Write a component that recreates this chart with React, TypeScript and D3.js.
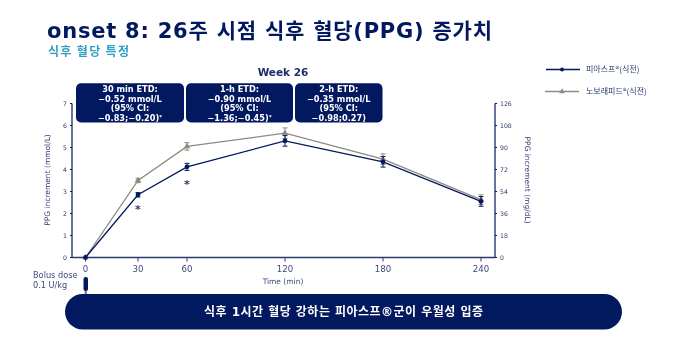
import React from "react";
import * as d3 from "d3";

const times = [0, 30, 60, 120, 180, 240];
const fiasp = [0, 2.85, 4.12, 5.3, 4.35, 2.55];
const fiaspErr = [0, 0.1, 0.16, 0.24, 0.24, 0.22];
const novo = [0, 3.5, 5.05, 5.65, 4.47, 2.63];
const novoErr = [0, 0.1, 0.17, 0.24, 0.24, 0.22];
const mmolTicks = [0, 1, 2, 3, 4, 5, 6, 7];
const mgTicks = [0, 18, 36, 54, 72, 90, 108, 126];
const stars = [{ t: 30, v: 2.35 }, { t: 60, v: 3.5 }];
const etdBoxes = [
  { x0: 76, x1: 184, lines: ["30 min ETD:", "−0.52 mmol/L", "(95% CI:", "−0.83;−0.20)"], star: true },
  { x0: 186, x1: 293, lines: ["1-h ETD:", "−0.90 mmol/L", "(95% CI:", "−1.36;−0.45)"], star: true },
  { x0: 295, x1: 382.5, lines: ["2-h ETD:", "−0.35 mmol/L", "(95% CI:", "−0.98;0.27)"], star: false },
];

const NAVY = "#03195f";
const GRAY = "#8f8a7e";
const FONT = "'DejaVu Sans', 'Noto Sans CJK KR', sans-serif";
const KR = "'Noto Sans CJK KR', 'DejaVu Sans', sans-serif";

const x = d3.scaleLinear().domain([0, 30, 240]).range([85.5, 138, 481]);
const y = d3.scaleLinear().domain([0, 7]).range([257.5, 103.5]);
const y2 = d3.scaleLinear().domain([0, 126]).range([257.5, 103.5]);
const line = d3.line<number>().x((_, i) => x(times[i])).y((d) => y(d));

function Series({ values, errs, color, kind }: { values: number[]; errs: number[]; color: string; kind: string }) {
  const sym = d3.symbol().type(kind === "tri" ? d3.symbolTriangle : d3.symbolCircle).size(kind === "tri" ? 18 : 18)();
  return (
    <g>
      <path d={line(values) || ""} fill="none" stroke={color} strokeWidth={1.3} />
      {values.map((v, i) => (
        <g key={i}>
          {errs[i] > 0 && (
            <g stroke={color} strokeWidth={1}>
              <line x1={x(times[i])} x2={x(times[i])} y1={y(v - errs[i])} y2={y(v + errs[i])} />
              <line x1={x(times[i]) - 2.5} x2={x(times[i]) + 2.5} y1={y(v - errs[i])} y2={y(v - errs[i])} />
              <line x1={x(times[i]) - 2.5} x2={x(times[i]) + 2.5} y1={y(v + errs[i])} y2={y(v + errs[i])} />
            </g>
          )}
          <path d={sym || ""} transform={`translate(${x(times[i])},${y(v)})`} fill={color} />
        </g>
      ))}
    </g>
  );
}

export default function App() {
  const legendSymC = d3.symbol().type(d3.symbolCircle).size(12)() || "";
  const legendSymT = d3.symbol().type(d3.symbolTriangle).size(14)() || "";
  return (
    <svg width={680} height={353} style={{ position: "absolute", left: 0, top: 0, background: "#fff", filter: "blur(0.4px)" }}>
      <text x={47} y={38} fontFamily={FONT} fontWeight={700} fontSize={21} fill={NAVY} textLength={445}>
        onset 8: 26주 시점 식후 혈당(PPG) 증가치
      </text>
      <text x={48} y={56} fontFamily={KR} fontWeight={700} fontSize={12} fill="#2e9fc4" textLength={81}>
        식후 혈당 특정
      </text>
      <text x={283} y={76} textAnchor="middle" fontFamily={FONT} fontWeight={700} fontSize={10.5} fill="#1d2d66">Week 26</text>

      {etdBoxes.map((b) => (
        <g key={b.x0}>
          <rect x={b.x0} y={83.2} width={b.x1 - b.x0} height={39.2} rx={5} fill={NAVY} />
          {b.lines.map((l, i) => (
            <text key={i} x={(b.x0 + b.x1) / 2} y={92 + i * 9.5} textAnchor="middle" fontFamily={FONT} fontWeight={700} fontSize={8.2} fill="#fff">
              {l}
              {i === 3 && b.star ? <tspan fontSize={5.5} dy={-2}>*</tspan> : null}
            </text>
          ))}
        </g>
      ))}

      <g stroke={NAVY} strokeWidth={1.2}>
        <line x1={72} x2={72} y1={y(7)} y2={y(0)} />
        <line x1={495} x2={495} y1={y(7)} y2={y(0)} />
        <line x1={72} x2={495} y1={y(0)} y2={y(0)} strokeWidth={1.4} stroke="#2b3a6c" />
      </g>
      {mmolTicks.map((t) => (
        <g key={t}>
          <line x1={70} x2={72} y1={y(t)} y2={y(t)} stroke={NAVY} />
          <text x={67} y={y(t) + 2} textAnchor="end" fontFamily={FONT} fontSize={6.2} fill="#2b3a6c">{t}</text>
        </g>
      ))}
      {mgTicks.map((t) => (
        <g key={t}>
          <line x1={495} x2={497} y1={y2(t)} y2={y2(t)} stroke={NAVY} />
          <text x={500} y={y2(t) + 2} fontFamily={FONT} fontSize={6.2} fill="#2b3a6c">{t}</text>
        </g>
      ))}
      {times.map((t) => (
        <g key={t}>
          <line x1={x(t)} x2={x(t)} y1={y(0)} y2={y(0) + 4} stroke="#2b3a6c" />
          <text x={x(t)} y={y(0) + 14} textAnchor="middle" fontFamily={FONT} fontSize={8.6} fill="#3c4a78">{t}</text>
        </g>
      ))}
      <text transform="translate(50,180) rotate(-90)" textAnchor="middle" fontFamily={FONT} fontSize={7.5} fill="#2b3a6c">PPG increment (mmol/L)</text>
      <text transform="translate(525,180) rotate(90)" textAnchor="middle" fontFamily={FONT} fontSize={7.5} fill="#2b3a6c">PPG increment (mg/dL)</text>
      <text x={283} y={284} textAnchor="middle" fontFamily={FONT} fontSize={7.5} fill="#3c4a78">Time (min)</text>

      <Series values={novo} errs={novoErr} color={GRAY} kind="tri" />
      <Series values={fiasp} errs={fiaspErr} color={NAVY} kind="dot" />
      {stars.map((s) => (
        <text key={s.t} x={x(s.t)} y={y(s.v) + 7} textAnchor="middle" fontFamily={FONT} fontSize={11} fontWeight={700} fill="#2b3a6c">*</text>
      ))}

      <text fontFamily={FONT} fontSize={8.2} fill="#3c4a78">
        <tspan x={33} y={278}>Bolus dose</tspan>
        <tspan x={33} y={288}>0.1 U/kg</tspan>
      </text>
      <rect x={83.5} y={277} width={4.5} height={14} rx={2} fill={NAVY} />
      <path d={`M85.7 291v3`} stroke="#6b7598" strokeWidth={2} />

      <line x1={546} x2={580} y1={69.5} y2={69.5} stroke={NAVY} strokeWidth={1.3} />
      <path d={legendSymC} transform="translate(562,69.5)" fill={NAVY} />
      <text x={586} y={72} fontFamily={KR} fontSize={8} fill="#2b3a6c">피아스프®(식전)</text>
      <line x1={545} x2={579} y1={91.5} y2={91.5} stroke={GRAY} strokeWidth={1.3} />
      <path d={legendSymT} transform="translate(562,91.5)" fill={GRAY} />
      <text x={586} y={94} fontFamily={KR} fontSize={8} fill="#2b3a6c">노보래피드®(식전)</text>

      <rect x={65} y={294} width={557} height={35.5} rx={17.7} fill={NAVY} />
      <text x={204} y={315.5} fontFamily={FONT} fontWeight={700} fontSize={12} fill="#fff" textLength={279}>식후 1시간 혈당 강하는 피아스프®군이 우월성 입증</text>
    </svg>
  );
}
